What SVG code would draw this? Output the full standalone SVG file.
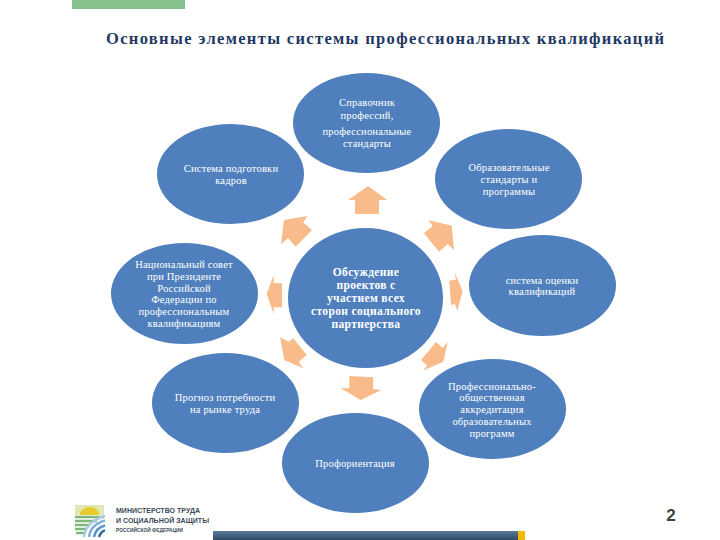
<svg xmlns="http://www.w3.org/2000/svg" width="720" height="540" viewBox="0 0 720 540">
<defs><linearGradient id="barGrad" x1="0" y1="0" x2="0" y2="1"><stop offset="0" stop-color="#5a7c9c"/><stop offset="1" stop-color="#2f4a66"/></linearGradient></defs>
<style>
.n{fill:#4f7fbc}
.t{font-family:"Liberation Serif",serif;font-size:10.5px;fill:#fff;text-anchor:middle;letter-spacing:.2px}
.b{font-family:"Liberation Serif",serif;font-size:11.5px;font-weight:bold;fill:#fff;text-anchor:middle;letter-spacing:.35px}
.a{fill:#fabb8a}
.l{font-family:"Liberation Sans",sans-serif;font-weight:bold;fill:#3b4a5a}
.w{fill:none;stroke-width:2.4}
</style>
<rect width="720" height="540" fill="#fff"/>
<rect x="72" y="0" width="113" height="9" fill="#86c08a"/>
<text x="385" y="44" text-anchor="middle" font-family="'Liberation Serif',serif" font-size="16.5" font-weight="bold" fill="#1f3864" textLength="558" lengthAdjust="spacing">Основные элементы системы профессиональных квалификаций</text>
<g id="connectors">
<polygon class="a" points="368,186 387,200 379,200 379,214 355,214 355,200 348,200"/>
<polygon class="a" points="307.3,216 284,220 281,244.3 288,238 295.7,246.7 312,230 303.3,222.7"/>
<polygon class="a" points="428.3,220 451.7,225.7 454,250 447.7,244 439,251.7 424,233.3 432.7,225.7"/>
<polygon class="a" points="266.7,294 273.7,275 273.7,283.3 282,283.3 282,307.3 273.7,307.3 273.7,314"/>
<polygon class="a" points="454.3,271.7 462.7,291 457.3,310.7 455,304 451,305 449.3,280.7 456,279.5"/>
<polygon class="a" points="280,337.3 288.7,341.7 293.3,338.3 306.7,355 298.7,361.7 303.3,368.3 284.3,360"/>
<polygon class="a" points="436,342 442.7,347.7 447.7,342 443.3,361.7 422.7,370.7 427.3,365.7 421,360"/>
<polygon class="a" points="349.3,376 373.3,377.3 373,389 381.3,390 360.7,400 340.7,388.3 349.3,388.3"/>
</g>
<g id="node-top"><ellipse class="n" cx="366.5" cy="123" rx="73.5" ry="50"/>
<text class="t" x="367" y="106">Справочник</text><text class="t" x="367" y="119">профессий,</text><text class="t" x="367" y="135">профессиональные</text><text class="t" x="367" y="147">стандарты</text></g>
<g id="node-training"><ellipse class="n" cx="230.5" cy="174" rx="73.5" ry="50"/>
<text class="t" x="231" y="172">Система подготовки</text><text class="t" x="231" y="184">кадров</text></g>
<g id="node-education"><ellipse class="n" cx="508.5" cy="179" rx="73.5" ry="50"/>
<text class="t" x="509" y="171">Образовательные</text><text class="t" x="509" y="183">стандарты и</text><text class="t" x="509" y="195">программы</text></g>
<g id="node-council"><ellipse class="n" cx="184.5" cy="293.5" rx="73.5" ry="50.5"/>
<text class="t" x="184" y="268">Национальный совет</text><text class="t" x="184" y="280">при Президенте</text><text class="t" x="184" y="292">Российской</text><text class="t" x="184" y="303">Федерации по</text><text class="t" x="184" y="315">профессиональным</text><text class="t" x="184" y="327">квалификациям</text></g>
<g id="node-center"><ellipse class="n" cx="365.5" cy="298" rx="77.5" ry="70"/>
<text class="b" x="366" y="276">Обсуждение</text><text class="b" x="366" y="289">проектов с</text><text class="b" x="366" y="302">участием всех</text><text class="b" x="366" y="315">сторон социального</text><text class="b" x="366" y="328">партнерства</text></g>
<g id="node-assessment"><ellipse class="n" cx="542.5" cy="285.5" rx="73.5" ry="50.5"/>
<text class="t" x="542" y="284">система оценки</text><text class="t" x="542" y="295">квалификаций</text></g>
<g id="node-forecast"><ellipse class="n" cx="225.5" cy="403" rx="73.5" ry="50"/>
<text class="t" x="225" y="401">Прогноз потребности</text><text class="t" x="225" y="413">на рынке труда</text></g>
<g id="node-accreditation"><ellipse class="n" cx="492.5" cy="409" rx="73.5" ry="50"/>
<text class="t" x="492" y="390">Профессионально-</text><text class="t" x="492" y="401">общественная</text><text class="t" x="492" y="413">аккредитация</text><text class="t" x="492" y="425">образовательных</text><text class="t" x="492" y="437">программ</text></g>
<g id="node-orientation"><ellipse class="n" cx="355.5" cy="463" rx="73.5" ry="50"/>
<text class="t" x="355" y="467">Профориентация</text></g>
<g id="logo">
<path d="M75 505h29v10H75z" fill="#dfe8b0"/>
<path d="M80 515a9.500 8 0 0 1 19 0z" fill="#e6cb2c"/>
<path d="M75 517h29M75 521h22M75 525h15M75 529h11M76 533h8" class="w" stroke="#7fb778" stroke-width="2.2"/>
<path d="M84 537C85 527 93 519 105 516" class="w" stroke="#a9c9e6"/>
<path d="M89 537C90 529 96 523 105 520.500" class="w" stroke="#7fb0dc"/>
<path d="M94 537C95 531 99 527 105 525.500" class="w" stroke="#5d95c8"/>
<path d="M99 537C100 534 102 531 105 530.500" class="w" stroke="#2e6da4"/>
<text class="l" x="116" y="513" font-size="7" textLength="84">МИНИСТЕРСТВО ТРУДА</text>
<text class="l" x="116" y="523" font-size="7" textLength="93">И СОЦИАЛЬНОЙ ЗАЩИТЫ</text>
<text class="l" x="116" y="532" font-size="4.800" textLength="67">РОССИЙСКОЙ ФЕДЕРАЦИИ</text>
</g>
<rect x="213" y="531" width="305" height="9" fill="url(#barGrad)"/>
<rect x="518" y="531" width="7" height="9" fill="#f5b800"/>
<text x="671" y="521" text-anchor="middle" font-family="'Liberation Sans',sans-serif" font-size="17" font-weight="bold" fill="#404040">2</text>
</svg>
